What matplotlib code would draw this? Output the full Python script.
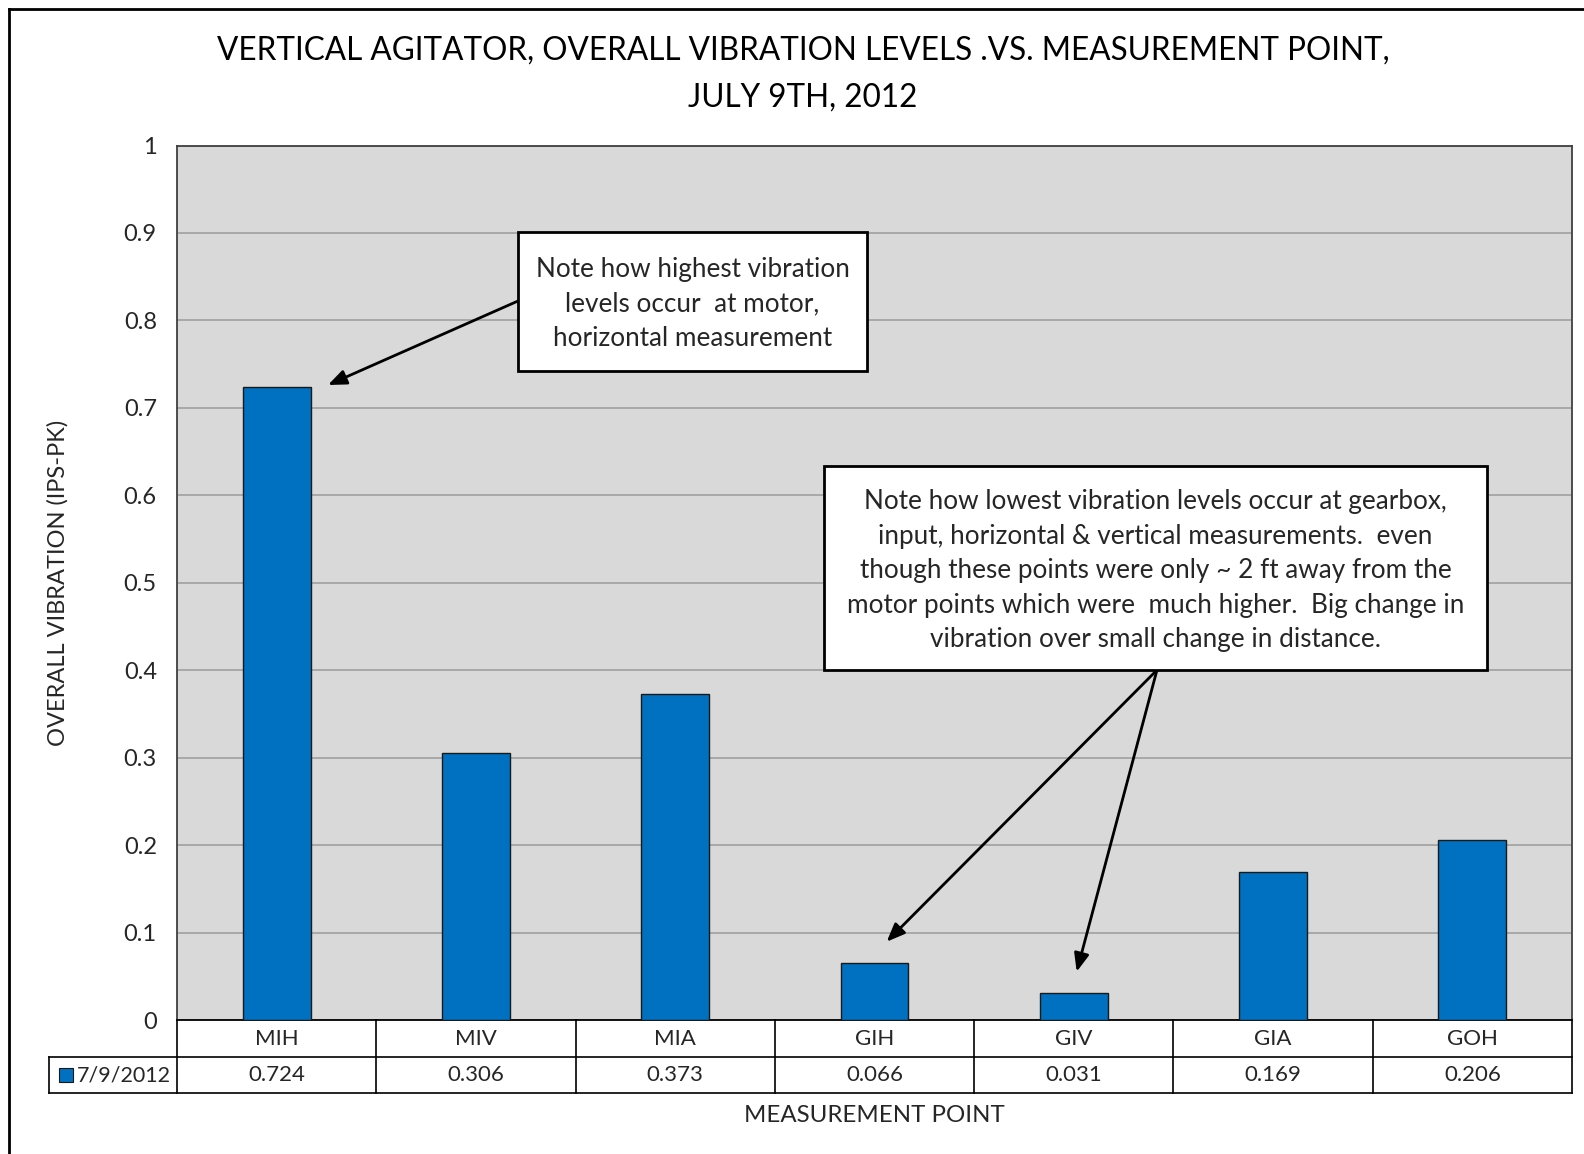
import matplotlib
matplotlib.use("Agg")
import matplotlib.pyplot as plt
import matplotlib.transforms as mtransforms
from matplotlib.patches import Rectangle
from matplotlib.lines import Line2D

# measurement points and overall vibration (IPS-PK) taken on 7/9/2012
points = ["MIH", "MIV", "MIA", "GIH", "GIV", "GIA", "GOH"]
levels = [0.724, 0.306, 0.373, 0.066, 0.031, 0.169, 0.206]
series_name = "7/9/2012"
y_ticks = [0, 0.1, 0.2, 0.3, 0.4, 0.5, 0.6, 0.7, 0.8, 0.9, 1.0]
y_tick_labels = ["0", "0.1", "0.2", "0.3", "0.4", "0.5", "0.6", "0.7", "0.8", "0.9", "1"]

title = ("VERTICAL AGITATOR, OVERALL VIBRATION LEVELS .VS. MEASUREMENT POINT,\n"
         "JULY 9TH, 2012")
note_high = ("Note how highest vibration\n"
             "levels occur  at motor,\n"
             "horizontal measurement")
note_low = ("Note how lowest vibration levels occur at gearbox,\n"
            "input, horizontal & vertical measurements.  even\n"
            "though these points were only ~ 2 ft away from the\n"
            "motor points which were  much higher.  Big change in\n"
            "vibration over small change in distance.")

plt.rcParams['font.family'] = ['Lato', 'DejaVu Sans']

BLUE = "#0070C0"
TEXT = "#262626"
W, H = 1584, 1154

fig = plt.figure(figsize=(W / 100, H / 100), dpi=100)

# outer chart frame (left and top edges)
fig.add_artist(Line2D([9 / W, 9 / W], [0, 1 - 9 / H], transform=fig.transFigure,
                      color="black", lw=2))
fig.add_artist(Line2D([9 / W, 1], [1 - 9 / H, 1 - 9 / H], transform=fig.transFigure,
                      color="black", lw=2))

left, right, top, bottom = 177, 1572, 145.5, 1020.3
ax = fig.add_axes([left / W, 1 - bottom / H, (right - left) / W, (bottom - top) / H])
ax.set_facecolor("#D9D9D9")

x = list(range(len(points)))
ax.bar(x, levels, width=0.34, color=BLUE, edgecolor="#1a1a1a", linewidth=1.0, zorder=3)
ax.set_xlim(-0.5, len(points) - 0.5)
ax.set_ylim(0, 1)
ax.set_yticks(y_ticks)
ax.set_yticklabels(y_tick_labels)
ax.tick_params(axis="y", length=0, pad=14.5, labelsize=17, labelcolor=TEXT)
ax.set_xticks([])
ax.grid(axis="y", color="#A0A0A0", linewidth=1.2, zorder=1)
ax.set_axisbelow(True)
for side in ["top", "left", "right"]:
    ax.spines[side].set_color("#404040")
    ax.spines[side].set_linewidth(1.3)
ax.spines["bottom"].set_color("black")
ax.spines["bottom"].set_linewidth(1.3)

# data table under the plot
trans = mtransforms.blended_transform_factory(ax.transData, ax.transAxes)
row_h = 36.5 / (bottom - top)
px_to_x = 7 / (right - left)
legend_x = -0.5 + (48.5 - left) * px_to_x
tbl = dict(transform=trans, color="black", lw=1.2, clip_on=False)
for y in (-row_h, -2 * row_h):
    ax.add_line(Line2D([legend_x, len(points) - 0.5], [y, y], **tbl))
for i in range(len(points) + 1):
    ax.add_line(Line2D([i - 0.5, i - 0.5], [0, -2 * row_h], **tbl))
ax.add_line(Line2D([legend_x, legend_x], [-row_h, -2 * row_h], **tbl))

for i, (name, val) in enumerate(zip(points, levels)):
    ax.text(i, -0.5 * row_h, name, transform=trans, ha="center", va="center",
            fontsize=16, color=TEXT)
    ax.text(i, -1.5 * row_h, f"{val:.3f}", transform=trans, ha="center", va="center",
            fontsize=16, color=TEXT)

key_x = -0.5 + (58.6 - left) * px_to_x
ax.add_patch(Rectangle((key_x, -1.5 * row_h - 7 / (bottom - top)), 14 * px_to_x,
                       14 / (bottom - top), transform=trans, facecolor=BLUE,
                       edgecolor="#1a1a1a", lw=0.8, clip_on=False))
ax.text(-0.5 + (77 - left) * px_to_x, -1.5 * row_h, series_name, transform=trans,
        ha="left", va="center", fontsize=15.5, color=TEXT)

ax.text(0.5, (bottom - 1116) / (bottom - top), "MEASUREMENT POINT", transform=ax.transAxes,
        ha="center", va="center", fontsize=17.3, color=TEXT)
fig.text(57.6 / W, 1 - 583 / H, "OVERALL VIBRATION (IPS-PK)", rotation=90,
         ha="center", va="center", fontsize=17, color=TEXT)
fig.text(803 / W, 1 - 74 / H, title, ha="center", va="center", fontsize=22.7,
         color="black", linespacing=1.7)


def px_x(px):
    return -0.5 + (px - left) * px_to_x


def px_y(py):
    return (bottom - py) / (bottom - top)


# callout boxes
def callout(x0, y0, x1, y1, text):
    ax.add_patch(Rectangle((px_x(x0), px_y(y1)), px_x(x1) - px_x(x0), px_y(y0) - px_y(y1),
                           facecolor="white", edgecolor="black", lw=2, zorder=5,
                           clip_on=False))
    ax.text((px_x(x0) + px_x(x1)) / 2, (px_y(y0) + px_y(y1)) / 2 - 0.003, text,
            ha="center", va="center", fontsize=18.8, color=TEXT, linespacing=1.47,
            zorder=6)


arrow = dict(arrowstyle="-|>,head_length=1.1,head_width=0.45", color="black", lw=2,
             shrinkA=0, shrinkB=0)
callout(518, 232, 867, 371, note_high)
ax.annotate("", xy=(px_x(328), px_y(385)), xytext=(px_x(518), px_y(301)),
            arrowprops=arrow, zorder=4)

callout(824, 466, 1487, 670, note_low)
ax.annotate("", xy=(px_x(886.7), px_y(941.7)), xytext=(px_x(1157), px_y(670)),
            arrowprops=arrow, zorder=4)
ax.annotate("", xy=(px_x(1076.7), px_y(971.7)), xytext=(px_x(1157), px_y(670)),
            arrowprops=arrow, zorder=4)

fig.savefig("out.png", dpi=100, facecolor="white")
